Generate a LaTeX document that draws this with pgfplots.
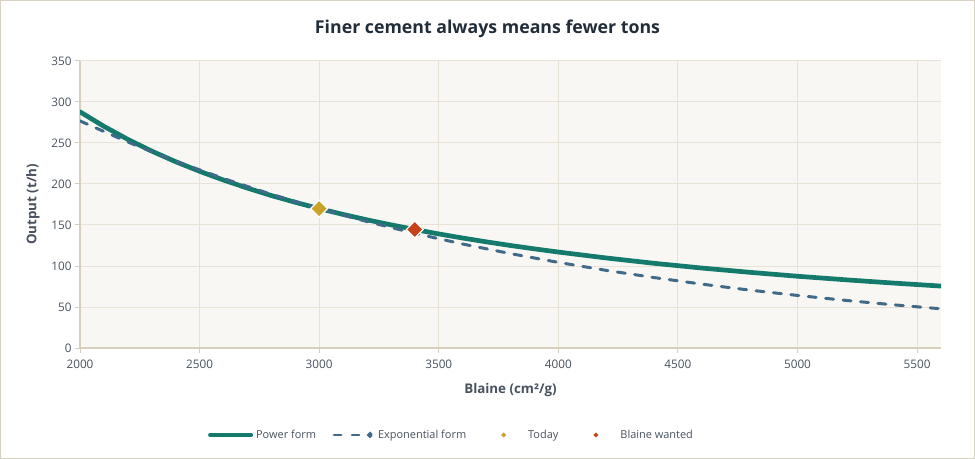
\documentclass[border=0pt]{standalone}
\usepackage{pgfplots}
\pgfplotsset{compat=1.18}
\usetikzlibrary{calc}
\usepackage{fontspec}
\setmainfont{Open Sans}
\definecolor{plotbg}{RGB}{249,247,243}
\definecolor{gridc}{RGB}{232,226,214}
\definecolor{axc}{RGB}{214,207,189}
\definecolor{borderc}{RGB}{216,210,192}
\definecolor{tealc}{RGB}{19,122,108}
\definecolor{dashc}{RGB}{63,106,138}
\definecolor{goldc}{RGB}{201,162,39}
\definecolor{redc}{RGB}{198,67,26}
\definecolor{titlec}{RGB}{33,45,56}
\definecolor{tickc}{RGB}{72,82,94}
\pgfplotstableread{
x y
2000 288.0
2100 270.3
2200 254.4
2300 240.1
2400 227.2
2500 215.5
2600 204.8
2700 195.0
2800 185.9
2900 177.7
3000 170.0
3100 162.9
3200 156.3
3300 150.2
3400 144.5
3500 139.1
3600 134.1
3700 129.4
3800 125.0
3900 120.9
4000 117.0
4200 109.8
4400 103.3
4600 97.5
4800 92.3
5000 87.5
5200 83.2
5400 79.2
5600 75.5
}\powertab
\pgfplotstableread{
x y
2000 276.9
2200 251.2
2400 227.8
2600 206.7
2800 187.4
3000 170.0
3200 154.2
3400 139.8
3600 126.8
3800 115.1
4000 104.4
4200 94.7
4400 85.9
4600 77.9
4800 70.6
5000 64.1
5200 58.1
5400 52.7
5600 47.8
}\exptab
\begin{document}
\begin{tikzpicture}
\begin{axis}[
  name=ax,
  scale only axis,
  width=861bp, height=287bp,
  xmin=2000, xmax=5600, ymin=0, ymax=350,
  xtick={2000,2500,...,5500}, ytick={0,50,...,350},
  axis background/.style={fill=plotbg},
  axis x line*=bottom, axis y line*=left,
  axis line style={draw=axc, line width=1.2bp},
  x axis line style={-}, y axis line style={-},
  grid=major,
  major grid style={draw=gridc, line width=1bp},
  tick style={draw=axc, line width=1bp},
  tick align=outside, major tick length=5bp,
  ticklabel style={font=\fontsize{11.8}{14}\selectfont, text=tickc},
  xticklabel style={yshift=-3bp},
  /pgf/number format/assume math mode=true,
  /pgf/number format/set thousands separator={},
  xlabel={Blaine (cm²/g)},
  ylabel={Output (t/h)},
  label style={font=\fontsize{13.4}{16}\selectfont\bfseries, text=tickc},
  xlabel style={at={(axis description cs:0.5,-0.146)}, anchor=center},
  ylabel style={at={(axis description cs:-0.0546,0.5)}, anchor=center},
  legend columns=4,
  legend style={draw=none, fill=none, font=\fontsize{11}{13}\selectfont, text=tickc,
    at={(axis description cs:0.4315,-0.303)}, anchor=center,
    /tikz/every even column/.append style={column sep=14bp},
    /tikz/every odd column/.append style={column sep=1bp},
    inner sep=0pt, outer sep=0pt},
  legend cell align=left,
]
\addplot[draw=tealc, line width=4.7bp, line cap=round,
  legend image code/.code={\draw[draw=tealc, line width=4bp, line cap=round] (1bp,0bp) -- (42bp,0bp);}]
  table[x=x,y=y] {\powertab};
\addlegendentry{Power form}
\addplot[draw=dashc, line width=3bp, line cap=round, dash pattern=on 8bp off 9.5bp,
  legend image code/.code={\path[draw=none] (0bp,0bp) -- (43bp,0bp);
    \draw[draw=dashc, line width=2.8bp, line cap=round, solid] (2bp,0bp) -- (9bp,0bp);
    \draw[draw=dashc, line width=2.8bp, line cap=round, solid] (20bp,0bp) -- (27bp,0bp);
    \fill[dashc] (38bp,0bp) circle (1.3bp);}]
  table[x=x,y=y] {\exptab};
\addlegendentry{Exponential form}
\addplot[only marks, mark=square*, mark size=6bp,
  mark options={rotate=45, fill=goldc, draw=white, line width=1.2bp},
  legend image code/.code={\path[draw=none] (0bp,0bp) -- (43bp,0bp);
    \fill[goldc] (21.5bp,2.2bp) -- (23.7bp,0bp) -- (21.5bp,-2.2bp) -- (19.3bp,0bp) -- cycle;}]
  coordinates {(3000,170)};
\addlegendentry{Today}
\addplot[only marks, mark=square*, mark size=6bp,
  mark options={rotate=45, fill=redc, draw=white, line width=1.2bp},
  legend image code/.code={\path[draw=none] (0bp,0bp) -- (43bp,0bp);
    \fill[redc] (21.5bp,2.2bp) -- (23.7bp,0bp) -- (21.5bp,-2.2bp) -- (19.3bp,0bp) -- cycle;}]
  coordinates {(3400,144.5)};
\addlegendentry{Blaine wanted}
\end{axis}
\draw[draw=borderc, line width=1.5bp]
  ([shift={(-79.25bp,-110.25bp)}]ax.south west) coordinate (bl)
  rectangle ([shift={(33.25bp,60.25bp)}]ax.north east) coordinate (tr);
\path let \p1=(bl), \p2=(tr) in
  node[font=\fontsize{17.8}{21}\selectfont\bfseries, text=titlec, anchor=center]
  at ({(\x1+\x2)/2}, {\y2-28.5bp}) {Finer cement always means fewer tons};
\end{tikzpicture}
\end{document}
